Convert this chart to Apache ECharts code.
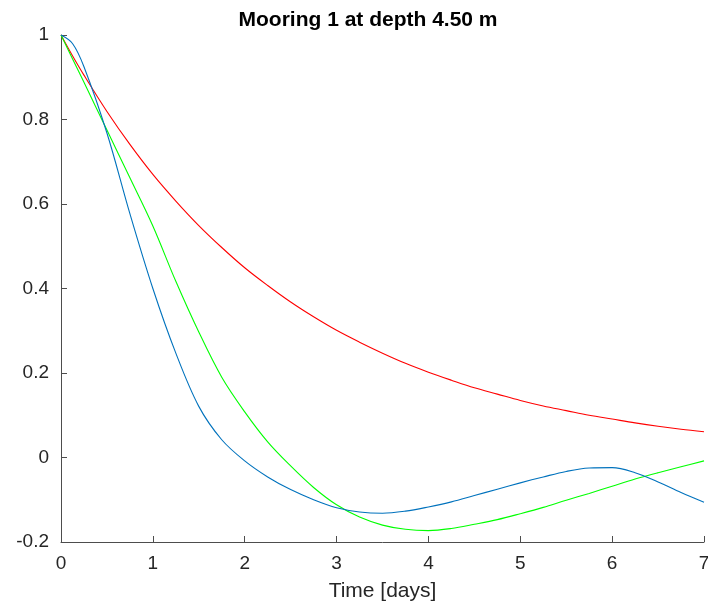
<!DOCTYPE html>
<html>
<head>
<meta charset="utf-8">
<script src="https://cdn.jsdelivr.net/npm/echarts@6/dist/echarts.min.js"></script>
<style>html,body{margin:0;padding:0;background:#fff;overflow:hidden;}#c{width:708px;height:605px;}</style>
</head>
<body>
<div id="c"></div>
<script>
const times = [0,0.125,0.25,0.5,0.75,1,1.25,1.5,1.75,2,2.25,2.5,2.75,3,3.25,3.5,3.75,4,4.25,4.5,4.75,5,5.25,5.5,5.75,6,6.25,6.5,6.75,7];
const blueVals = [1.0,0.98,0.925,0.768,0.577,0.40,0.247,0.121,0.042,-0.008,-0.046,-0.076,-0.10,-0.119,-0.129,-0.132,-0.127,-0.117,-0.105,-0.09,-0.075,-0.06,-0.046,-0.033,-0.025,-0.024,-0.036,-0.058,-0.083,-0.106];
const greenVals = [1.0,0.944,0.888,0.775,0.662,0.548,0.417,0.297,0.19,0.108,0.037,-0.02,-0.071,-0.112,-0.141,-0.16,-0.17,-0.173,-0.168,-0.158,-0.147,-0.133,-0.118,-0.101,-0.085,-0.068,-0.051,-0.036,-0.022,-0.008];
const redVals = [1,0.951,0.905,0.819,0.741,0.670,0.607,0.549,0.497,0.449,0.407,0.368,0.333,0.301,0.273,0.247,0.223,0.202,0.183,0.165,0.150,0.135,0.122,0.111,0.100,0.091,0.082,0.074,0.067,0.061];
const titleText = 'Mooring 1 at depth 4.50 m';
const xLabel = 'Time [days]';

function pairs(v){ return times.map((t,i)=>[t,v[i]]); }
const font = 'Liberation Sans, Arial, Helvetica, sans-serif';
const chart = echarts.init(document.getElementById('c'), null, {renderer:'canvas'});
const axisCommon = {
  axisLine:{show:true,onZero:false,lineStyle:{color:'#4d4d4d',width:1}},
  axisTick:{show:true,inside:true,length:6,lineStyle:{color:'#4d4d4d'}},
  splitLine:{show:false}
};
const lineCommon = {type:'line',smooth:0.35,showSymbol:false};
chart.setOption({
  animation:false,
  backgroundColor:'#fff',
  title:{text:titleText,left:363,top:5,textAlign:'center',
    textStyle:{fontSize:21,fontWeight:'bold',color:'#000',fontFamily:font}},
  grid:{left:61,right:4,top:35,bottom:63,containLabel:false,outerBoundsMode:'none'},
  xAxis:Object.assign({type:'value',min:0,max:7,interval:1,name:xLabel,nameLocation:'middle',nameGap:39,
    nameTextStyle:{color:'#262626',fontSize:21,fontFamily:font}},axisCommon,
    {axisLabel:{color:'#262626',fontSize:19,fontFamily:font,margin:12}}),
  yAxis:Object.assign({type:'value',min:-0.2,max:1,interval:0.2},axisCommon,
    {axisLabel:{color:'#262626',fontSize:19,fontFamily:font,margin:12}}),
  series:[
    Object.assign({data:pairs(redVals),lineStyle:{color:'#ff0000',width:1.1},z:3},lineCommon),
    Object.assign({data:pairs(greenVals),lineStyle:{color:'#00ff00',width:1.1},z:4},lineCommon),
    Object.assign({data:pairs(blueVals),lineStyle:{color:'#0072bd',width:1.1},z:5},lineCommon)
  ]
});
</script>
</body>
</html>
